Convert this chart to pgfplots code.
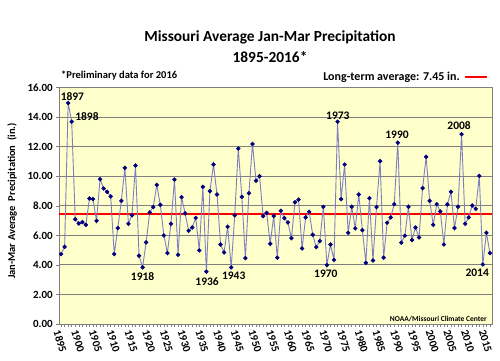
\documentclass[border=0pt]{standalone}
\usepackage{pgfplots}
\pgfplotsset{compat=1.18}
\usepackage{pgfplotstable}
\usepackage{fontspec}
\setmainfont{Carlito}
\definecolor{plotbg}{HTML}{FFFFCC}
\definecolor{gridc}{HTML}{7F7F7F}
\definecolor{linec}{HTML}{7F7FC0}
\definecolor{markc}{HTML}{000080}
\pgfplotstableread{
year val
1895 4.73
1896 5.22
1897 14.95
1898 13.69
1899 7.09
1900 6.80
1901 6.89
1902 6.71
1903 8.49
1904 8.45
1905 6.98
1906 9.80
1907 9.17
1908 8.94
1909 8.63
1910 4.73
1911 6.49
1912 8.33
1913 10.56
1914 6.78
1915 7.36
1916 10.72
1917 4.62
1918 3.83
1919 5.52
1920 7.55
1921 7.91
1922 9.41
1923 8.06
1924 5.99
1925 4.80
1926 6.78
1927 9.77
1928 4.68
1929 8.58
1930 7.48
1931 6.31
1932 6.53
1933 7.18
1934 4.98
1935 9.28
1936 3.54
1937 8.99
1938 10.79
1939 8.76
1940 5.38
1941 4.84
1942 6.58
1943 3.83
1944 7.36
1945 11.87
1946 8.60
1947 4.46
1948 8.85
1949 12.18
1950 9.69
1951 10.00
1952 7.30
1953 7.52
1954 5.43
1955 7.31
1956 4.49
1957 7.66
1958 7.16
1959 6.87
1960 5.81
1961 8.24
1962 8.42
1963 5.11
1964 7.21
1965 7.59
1966 6.04
1967 5.20
1968 5.61
1969 7.93
1970 3.99
1971 5.38
1972 4.34
1973 13.69
1974 8.45
1975 10.79
1976 6.17
1977 7.93
1978 6.47
1979 8.76
1980 6.35
1981 4.14
1982 8.51
1983 4.30
1984 7.91
1985 11.02
1986 4.49
1987 6.85
1988 7.21
1989 8.11
1990 12.27
1991 5.50
1992 5.97
1993 7.93
1994 5.68
1995 6.53
1996 5.86
1997 9.19
1998 11.31
1999 8.33
2000 6.71
2001 8.11
2002 7.61
2003 5.38
2004 8.09
2005 8.94
2006 6.49
2007 7.93
2008 12.84
2009 6.78
2010 7.21
2011 8.02
2012 7.79
2013 10.02
2014 4.03
2015 6.17
2016 4.80
}\datatable
\begin{document}
\begin{tikzpicture}[x=1pt,y=1pt]
\path[use as bounding box] (0,0) rectangle (500,360);
\begin{axis}[
  at={(59.3pt,36pt)}, anchor=south west,
  scale only axis, width=432.4pt, height=236.5pt,
  xmin=1894.5, xmax=2016.5, ymin=0, ymax=16,
  axis background/.style={fill=plotbg},
  axis line style={gridc},
  ytick={0,2,...,16},
  /pgf/number format/assume math mode=true,
  yticklabel style={/pgf/number format/fixed, /pgf/number format/fixed zerofill, /pgf/number format/precision=2, font=\fontsize{11}{12}\selectfont\bfseries},
  xtick={1895,1900,...,2015},
  minor xtick={1895,1896,...,2016},
  xticklabel style={/pgf/number format/set thousands separator={}, rotate=-73, anchor=west, font=\fontsize{11}{12}\selectfont\bfseries, inner sep=1pt, yshift=-5pt, xshift=1pt},
  tick align=outside, major tick length=3pt, minor tick length=3pt,
  tick style={gridc, line width=0.5pt},
  xtick pos=bottom, ytick pos=left,
  ymajorgrids, major grid style={gridc, line width=0.8pt},
  clip=false,
]
\addplot[red, line width=1.6pt, forget plot] coordinates {(1894.5,7.45) (2016.5,7.45)};
\addplot[linec, line width=0.9pt, mark=*, mark size=1.7pt, mark options={fill=markc, draw=markc}] table[x=year,y=val] {\datatable};
\begin{scope}[every node/.style={font=\fontsize{11.5}{12}\selectfont\bfseries, inner sep=0pt}]
\node at (axis cs:1898.2,15.4) {1897};
\node at (axis cs:1902.3,14.05) {1898};
\node at (axis cs:1918.0,3.2) {1918};
\node at (axis cs:1936.2,2.9) {1936};
\node at (axis cs:1943.7,3.29) {1943};
\node at (axis cs:1969.7,3.4) {1970};
\node at (axis cs:1973.1,14.07) {1973};
\node at (axis cs:1989.8,12.77) {1990};
\node at (axis cs:2007.3,13.4) {2008};
\node at (axis cs:2012.4,3.47) {2014};
\end{scope}
\end{axis}
\node[font=\fontsize{15.4}{19}\selectfont\bfseries, anchor=base, inner sep=0pt] at (270,318.5) {Missouri Average Jan-Mar Precipitation};
\node[font=\fontsize{15.4}{19}\selectfont\bfseries, anchor=base, inner sep=0pt] at (270,298) {1895-2016*};
\node[font=\fontsize{10.5}{12}\selectfont\bfseries, anchor=west, inner sep=0pt] at (61,284) {*Preliminary data for 2016};
\node[font=\fontsize{12}{13}\selectfont\bfseries, anchor=east, inner sep=0pt] at (460,283) {Long-term average: 7.45 in.};
\draw[red, line width=1.6pt] (465,283) -- (487,283);
\node[font=\fontsize{10.5}{12}\selectfont\bfseries, rotate=90] at (12,159) {Jan-Mar Average\ \ Precipitation\ \ (in.)};
\node[font=\fontsize{7.5}{8}\selectfont\bfseries, anchor=east, inner sep=0pt] at (487,41) {NOAA/Missouri Climate Center};
\end{tikzpicture}
\end{document}
